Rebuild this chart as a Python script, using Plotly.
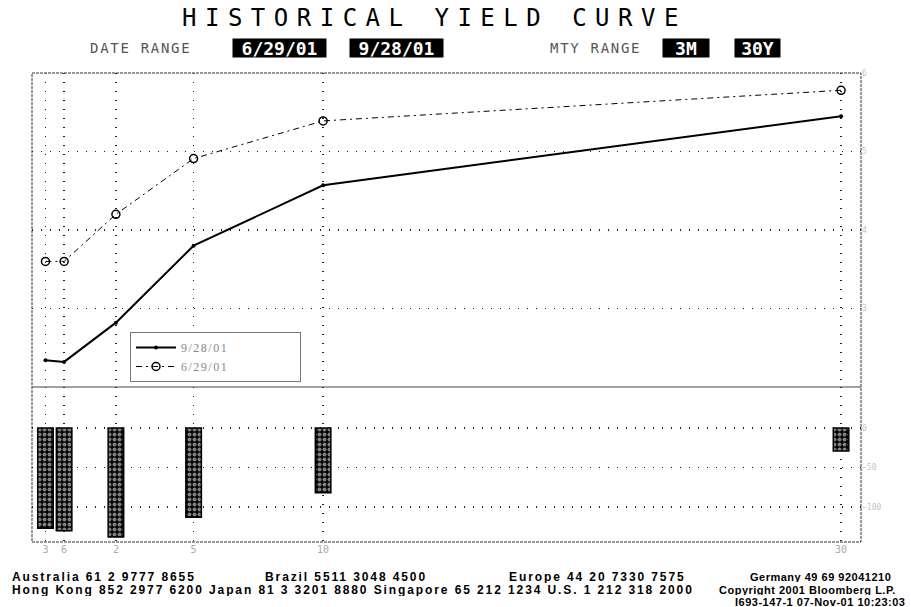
import plotly.graph_objects as go

# ---- data ----
tenor_labels = ["3M", "6M", "2Y", "5Y", "10Y", "30Y"]
tick_labels = ["3", "6", "2", "5", "10", "30"]
# Bloomberg maturity scale (short end stretched; linear in years from 6M onwards)
tenor_axis_pos = [-0.72, 0.0, 2.0, 5.0, 10.0, 30.0]
yield_0928 = [2.34, 2.32, 2.82, 3.80, 4.57, 5.45]
yield_0629 = [3.60, 3.60, 4.20, 4.91, 5.39, 5.78]
change_bp = [-127, -130, -138, -113, -82, -29]
yield_ticks = [3, 4, 5, 6]
change_ticks = [0, -50, -100]

# ---- geometry helpers (screen pixels -> paper); body margin removed below ----
W, H = 911, 607
PL, PR, PT, PB = 32, 861, 73, 542          # plot frame in screen pixels
L, R, T, B = PL, W - PR, PT, H - PB
PW, PH = W - L - R, H - T - B


def px(xs):
    return (xs - PL) / PW


def py(ys):
    return (PB - ys) / PH


split = py(387)

fig = go.Figure()

fig.add_trace(go.Bar(
    x=tenor_axis_pos, y=change_bp, xaxis="x", yaxis="y2", width=0.6,
    marker=dict(color="black", line=dict(color="black", width=1.5),
                pattern=dict(shape=".", fgcolor="white", bgcolor="black",
                             size=5, solidity=0.5)),
    showlegend=False, hoverinfo="skip",
))
pad = "&nbsp;" * 22


def legend_name(s):
    return '<span style="letter-spacing:1.5px">' + s + "</span>" + pad


fig.add_trace(go.Scatter(
    x=tenor_axis_pos, y=yield_0928, xaxis="x", yaxis="y", name=legend_name("9/28/01"),
    mode="lines+markers", line=dict(color="black", width=2),
    marker=dict(symbol="circle", size=4, color="black"), hoverinfo="skip",
))
fig.add_trace(go.Scatter(
    x=tenor_axis_pos, y=yield_0629, xaxis="x", yaxis="y", name=legend_name("6/29/01"),
    mode="lines+markers", line=dict(color="black", width=1, dash="6px,4px,2px,4px"),
    marker=dict(symbol="circle-open", size=8, color="black", line=dict(width=1.5)),
    hoverinfo="skip",
))

grid = dict(showgrid=True, gridcolor="#222", gridwidth=1.4, griddash="1px,8px")

fig.update_layout(
    width=W, height=H, margin=dict(l=L, r=R, t=T, b=B),
    paper_bgcolor="white", plot_bgcolor="white",
    showlegend=True, bargap=0, hovermode=False,
    xaxis=dict(range=[-1.24, 30.77], anchor="y2", tickvals=tenor_axis_pos,
               ticktext=tick_labels, ticks="", zeroline=False, showline=False,
               tickfont=dict(family="DejaVu Sans Mono", size=10, color="#aaaaaa"),
               **grid),
    yaxis=dict(domain=[split, 1], range=[2, 6], tickvals=yield_ticks, side="right",
               anchor="x", zeroline=False, showline=False, ticks="",
               tickfont=dict(family="DejaVu Sans Mono", size=8, color="#c4c4c4"),
               **grid),
    yaxis2=dict(domain=[0, split], range=[-144.3, 51.9], tickvals=change_ticks,
                side="right", anchor="x", zeroline=False, showline=False, ticks="",
                tickfont=dict(family="DejaVu Sans Mono", size=8, color="#c4c4c4"),
                **grid),
    legend=dict(x=px(130), y=py(332), xanchor="left", yanchor="top",
                bgcolor="white", bordercolor="#777", borderwidth=1,
                font=dict(family="Liberation Serif", size=12, color="#888"),
                itemwidth=40, tracegroupgap=2),
)

# plot frame and panel separator
fig.add_shape(type="rect", xref="paper", yref="paper", x0=0, x1=1, y0=0, y1=1,
              line=dict(color="#333", width=1, dash="3px,1px"), layer="above")
fig.add_shape(type="line", xref="paper", yref="paper", x0=0, x1=1, y0=split, y1=split,
              line=dict(color="#444", width=1.2), layer="above")

ann = []
ann.append(dict(x=px(180), y=py(18), xanchor="left", yanchor="middle", width=520, height=30,
                align="left",
                text='<span style="letter-spacing:8.5px">HISTORICAL YIELD CURVE</span>',
                font=dict(family="DejaVu Sans Mono", size=24, color="black")))
ann.append(dict(x=px(88), y=py(48), xanchor="left", yanchor="middle", width=115, align="left",
                text='<span style="letter-spacing:1.7px">DATE RANGE</span>',
                font=dict(family="DejaVu Sans Mono", size=14, color="#555")))
ann.append(dict(x=px(548), y=py(48), xanchor="left", yanchor="middle", width=105, align="left",
                text='<span style="letter-spacing:1.7px">MTY RANGE</span>',
                font=dict(family="DejaVu Sans Mono", size=14, color="#555")))
for label, x0, x1 in [("6/29/01", 233, 326), ("9/28/01", 350, 443),
                      ("3M", 663, 709), ("30Y", 735, 780)]:
    ann.append(dict(x=px((x0 + x1) / 2), y=py(48), xanchor="center", yanchor="middle",
                    text="<b>" + label + "</b>", bgcolor="black", width=x1 - x0, height=18,
                    borderpad=0, align="center",
                    font=dict(family="DejaVu Sans Mono", size=18, color="white")))

footer_left = [
    ("Australia 61 2 9777 8655", 10, 577),
    ("Brazil 5511 3048 4500", 263, 577),
    ("Europe 44 20 7330 7575", 507, 577),
    ("Hong Kong 852 2977 6200 Japan 81 3 3201 8880 Singapore 65 212 1234 U.S. 1 212 318 2000",
     10, 590),
]
footer_right = [
    ("Germany 49 69 92041210", 748, 576),
    ("Copyright 2001 Bloomberg L.P.", 717, 589),
    ("I693-147-1 07-Nov-01 10:23:03", 733, 601),
]
for txt, x0, y0 in footer_left:
    ann.append(dict(x=px(x0), y=py(y0), xanchor="left", yanchor="middle",
                    text='<span style="letter-spacing:1.9px"><b>' + txt + "</b></span>",
                    height=12, valign="middle",
                    font=dict(family="Liberation Sans", size=12, color="black")))
for txt, x0, y0 in footer_right:
    ann.append(dict(x=px(x0), y=py(y0), xanchor="left", yanchor="middle",
                    text='<span style="letter-spacing:0.5px"><b>' + txt + "</b></span>",
                    height=11, valign="middle",
                    font=dict(family="Liberation Sans", size=11, color="black")))

for a in ann:
    a.update(xref="paper", yref="paper", showarrow=False)
fig.update_layout(annotations=ann)

fig.write_html("out.html", config={"displayModeBar": False, "staticPlot": True},
               post_script="document.body.style.margin='0';")
